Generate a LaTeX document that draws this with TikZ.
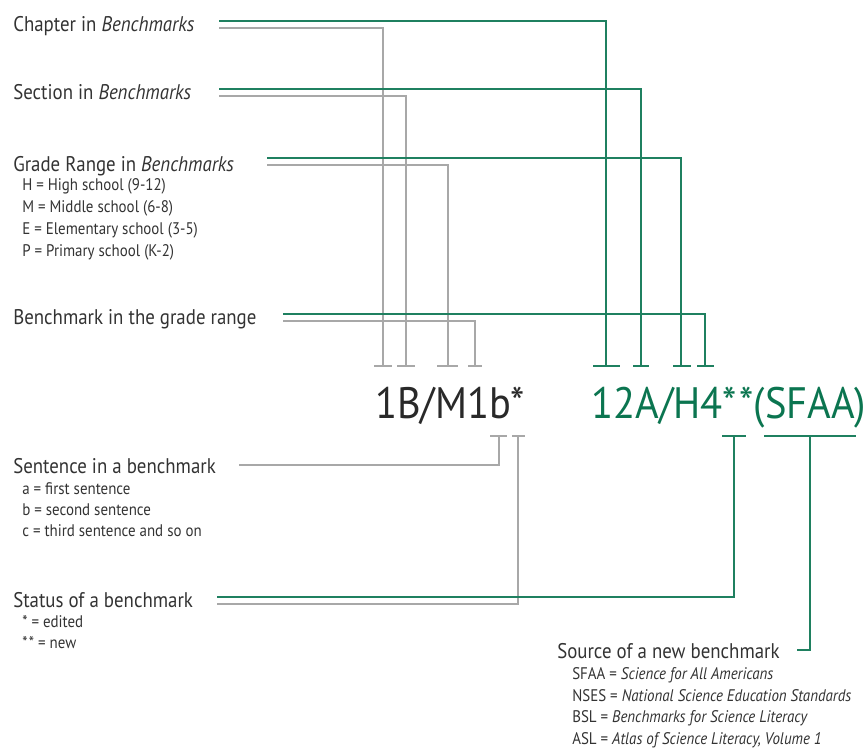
\documentclass[tikz,border=0pt]{standalone}
\usepackage{fontspec}
\setmainfont{PT Sans}[FakeStretch=0.89]
\newfontfamily\codefont{PT Sans}[FakeStretch=0.92]
\definecolor{bgreen}{HTML}{0B7550}
\definecolor{lgreen}{HTML}{1F8060}
\definecolor{lgray}{HTML}{A8A8A8}
\definecolor{txt}{HTML}{333333}
\begin{document}
\begin{tikzpicture}[x=0.75pt,y=-0.75pt,
  lbl/.style={anchor=base west,inner sep=0pt,text=txt,font=\fontsize{15.9pt}{18pt}\selectfont},
  sub/.style={anchor=base west,inner sep=0pt,text=txt,font=\fontsize{12.6pt}{14pt}\selectfont},
  code/.style={anchor=base west,inner sep=0pt,font=\codefont\fontsize{33pt}{36pt}\selectfont},
  gl/.style={draw=lgreen,line width=0.9pt},
  gr/.style={draw=lgray,line width=0.9pt}]
\useasboundingbox (0,0) rectangle (868,747);
% labels
\node[lbl] (chap) at (13,31) {Chapter in \textit{Benchmarks}};
\node[lbl] (sect) at (13,99) {Section in \textit{Benchmarks}};
\node[lbl] (grade) at (13,171) {Grade Range in \textit{Benchmarks}};
\node[sub] (gH) at (22,190) {H = High school (9-12)};
\node[sub] (gM) at (22,212) {M = Middle school (6-8)};
\node[sub] (gE) at (22,234) {E = Elementary school (3-5)};
\node[sub] (gP) at (22,256) {P = Primary school (K-2)};
\node[lbl] (bench) at (13,324) {Benchmark in the grade range};
\node[lbl] (sent) at (13,473) {Sentence in a benchmark};
\node[sub] (sa) at (22,494) {a = first sentence};
\node[sub] (sb) at (22,515) {b = second sentence};
\node[sub] (sc) at (22,536) {c = third sentence and so on};
\node[lbl] (stat) at (13,607) {Status of a benchmark};
\node[sub] (st1) at (22,627) {* = edited};
\node[sub] (st2) at (22,648) {*\kern1pt* = new};
\node[lbl] (src) at (557,658) {Source of a new benchmark};
\node[sub] (s1) at (572,679) {SFAA = \textit{Science for All Americans}};
\node[sub] (s2) at (572,701) {NSES = \textit{National Science Education Standards}};
\node[sub] (s3) at (572,722) {BSL = \textit{Benchmarks for Science Literacy}};
\node[sub] (s4) at (572,744) {ASL = \textit{Atlas of Science Literacy, Volume 1}};
% codes
\node[code,text=txt!80!black] (codeA) at (375,418) {1B/M1b*};
\node[code,text=bgreen] (codeB) at (591,418) {12A/H4*\kern2pt*(SFAA)};
% tick coordinates
\coordinate (t1) at (383,366); \coordinate (t2) at (406,366);
\coordinate (t3) at (448,366); \coordinate (t4) at (475,366);
\coordinate (u1) at (606,366); \coordinate (u2) at (641,366);
\coordinate (u3) at (681,366); \coordinate (u4) at (705,366);
\coordinate (b1) at (499,436); \coordinate (b2) at (518,436);
\coordinate (v1) at (734,436); \coordinate (v2) at (810,436);
% ticks
\draw[gr] (374,366) -- (392,366);
\draw[gr] (397,366) -- (415,366);
\draw[gr] (437,366) -- (458,366);
\draw[gr] (468,366) -- (482,366);
\draw[gl] (593,366) -- (620,366);
\draw[gl] (633,366) -- (649,366);
\draw[gl] (673,366) -- (691,366);
\draw[gl] (697,366) -- (714,366);
\draw[gr] (490,436) -- (507,436);
\draw[gr] (512,436) -- (525,436);
\draw[gl] (722,436) -- (746,436);
\draw[gl] (764,436) -- (856,436);
% connectors
\draw[gr] (219,28) -| (t1);
\draw[gr] (219,96) -| (t2);
\draw[gr] (267,165) -| (t3);
\draw[gr] (283,321) -| (t4);
\draw[gl] (219,21) -| (u1);
\draw[gl] (219,89) -| (u2);
\draw[gl] (267,158) -| (u3);
\draw[gl] (283,314) -| (u4);
\draw[gr] (239,465) -| (b1);
\draw[gr] (217,604) -| (b2);
\draw[gl] (217,597) -| (v1);
\draw[gl] (797,650) -| (v2);
\end{tikzpicture}
\end{document}
